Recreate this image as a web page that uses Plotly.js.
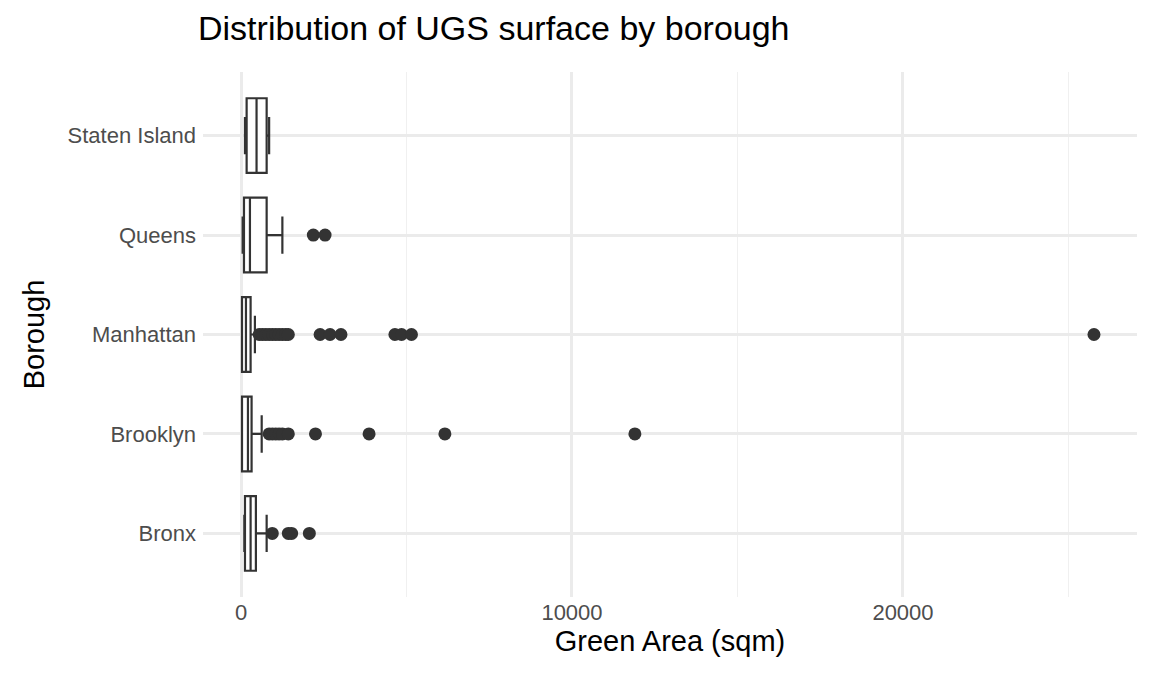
<!DOCTYPE html>
<html>
<head>
<meta charset="utf-8">
<script src="https://cdn.plot.ly/plotly-3.0.1.min.js"></script>
<style>body{margin:0;background:#fff}#chart{width:1152px;height:691px}</style>
</head>
<body>
<div id="chart"></div>
<script>
// box statistics (sqm)
const boroughs = ["Bronx", "Brooklyn", "Manhattan", "Queens", "Staten Island"];
const lowerFence = [100, 30, 30, 50, 120];
const q1 = [120, 30, 30, 90, 170];
const median = [290, 210, 150, 270, 470];
const q3 = [450, 320, 290, 775, 775];
const upperFence = [775, 625, 420, 1250, 850];

// outliers per borough
const outliers = {
    "Bronx": [945, 1430, 1530, 2065],
    "Brooklyn": [850, 950, 1050, 1150, 1250, 1430, 2250, 3870, 6160, 11900],
    "Manhattan": [550, 650, 750, 850, 950, 1050, 1150, 1250, 1350, 1430, 2390, 2690, 3020, 4650, 4850, 5150, 25770],
    "Queens": [2185, 2540],
    "Staten Island": []
};

var data = [{
    type: 'box',
    orientation: 'h',
    y: boroughs,
    q1: q1,
    median: median,
    q3: q3,
    lowerfence: lowerFence,
    upperfence: upperFence,
    boxpoints: false,
    fillcolor: '#ffffff',
    line: {color: '#333333', width: 2.2},
    width: 0.75,
    hoverinfo: 'x'
}];

var ox = [], oy = [];
boroughs.forEach(b => {
    outliers[b].forEach(v => { ox.push(v); oy.push(b); });
});
data.push({
    type: 'scatter',
    mode: 'markers',
    x: ox,
    y: oy,
    marker: {color: '#333333', size: 13},
    hoverinfo: 'x'
});

const layout = {
    width: 1152,
    height: 691,
    paper_bgcolor: '#ffffff',
    plot_bgcolor: '#ffffff',
    showlegend: false,
    margin: {l: 203, r: 15, t: 72, b: 94},
    font: {family: 'Liberation Sans, Arial, sans-serif', color: '#4d4d4d'},
    title: {
        text: 'Distribution of UGS surface by borough',
        x: 198 / 1152, xanchor: 'left', y: 0.96, yanchor: 'middle',
        font: {size: 34, color: '#000000'}
    },
    xaxis: {
        title: {text: 'Green Area (sqm)', font: {size: 29, color: '#000000'}, standoff: 6},
        range: [-1148, 27070],
        tickvals: [0, 10000, 20000],
        ticktext: ['0', '10000', '20000'],
        tickfont: {size: 22},
        showgrid: true,
        gridcolor: '#ebebeb',
        gridwidth: 2.5,
        minor: {tickvals: [5000, 15000, 25000], showgrid: true, gridcolor: '#f0f0f0', gridwidth: 1.2},
        zeroline: false,
        showline: false,
        ticks: ''
    },
    yaxis: {
        title: {text: 'Borough', font: {size: 29, color: '#000000'}, standoff: 14},
        categoryorder: 'array',
        categoryarray: boroughs,
        tickfont: {size: 22},
        showgrid: true,
        gridcolor: '#ebebeb',
        gridwidth: 2.5,
        zeroline: false,
        ticks: '',
        ticklabelstandoff: 6
    }
};

Plotly.newPlot('chart', data, layout, {displayModeBar: false});
</script>
</body>
</html>
